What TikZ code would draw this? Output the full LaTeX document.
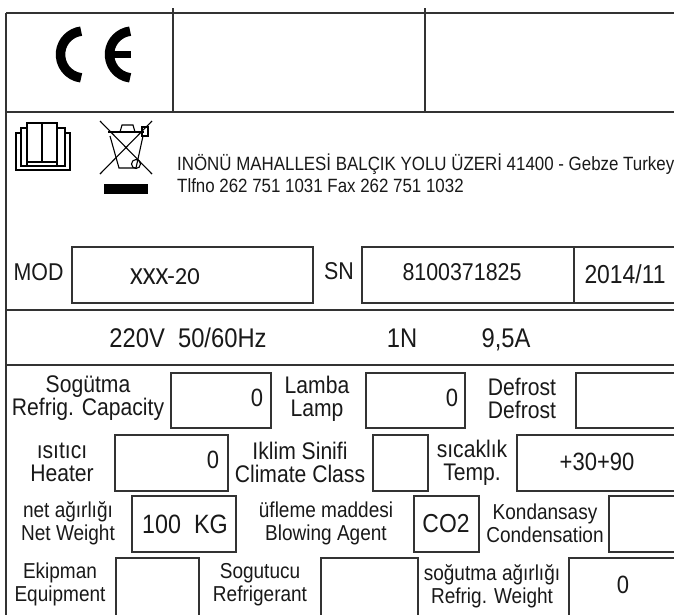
\documentclass[tikz,border=0pt]{standalone}
\usepackage{fontspec}
\setmainfont{Liberation Sans}[FakeStretch=0.88]
\newfontfamily\carlito{Carlito}
\begin{document}
\begin{tikzpicture}[x=1pt,y=-1pt,
  frame/.style={draw=black!80,line width=1.3pt},
  boxl/.style={draw=black!80,line width=1.2pt},
  icon/.style={draw=black,line width=1.1pt},
  txt/.style={inner sep=0pt,text=black!90,align=center},
  big/.style={txt,font=\fontsize{24.3}{27}\selectfont},
  lblA/.style={txt,font=\fontsize{24}{23}\selectfont},
  lblC/.style={txt,font=\fontsize{21.6}{23}\selectfont},
  val/.style={txt,font=\fontsize{25}{27}\selectfont},
  volts/.style={txt,anchor=base,font=\fontsize{27}{29}\selectfont},
  addr/.style={inner sep=0pt,anchor=base west,text=black!90,font=\fontsize{19.2}{20}\selectfont}]
\useasboundingbox (0,0) rectangle (674,614);
\clip (0,0) rectangle (674,614);
\fill[white] (0,0) rectangle (674,614);
% frame lines
\draw[frame] (6,13) -- (680,13);
\draw[frame] (6,13) -- (6,620);
\draw[frame] (173,8) -- (173,112);
\draw[frame] (425,8) -- (425,112);
\draw[frame] (6,112) -- (680,112);
\draw[frame] (6,310) -- (680,310);
\draw[frame] (6,365) -- (680,365);
% CE mark
\draw[line width=9.5pt] (84,54.5) ++(97:23.5) arc[start angle=97,end angle=263,radius=23.5];
\draw[line width=9.5pt] (133,54.5) ++(97:23.5) arc[start angle=97,end angle=263,radius=23.5];
\draw[line width=6.5pt] (112,54.5) -- (131,54.5);
% book icon
\draw[icon] (27,123) rectangle (42,162);
\draw[icon] (42,123) rectangle (57,162);
\draw[icon] (27,128) -- (21,128) -- (21,166) -- (65,166) -- (65,128) -- (57,128);
\draw[icon] (21,133) -- (16,133) -- (16,170) -- (70,170) -- (70,133) -- (65,133);
\draw[icon] (27,162) -- (27,165);
\draw[icon] (57,162) -- (57,165);
% WEEE bin icon
\draw[icon] (100,121) -- (152,174);
\draw[icon] (152,121) -- (100,174);
\draw[icon] (108,132) -- (144,132);
\draw[icon] (110,136) -- (119,168) -- (136,168) -- (143,136);
\draw[icon] (120,132) -- (122,125) -- (133,125) -- (135,132);
\draw[icon] (142,127) rectangle (148,136);
\draw[icon] (136,164) circle[radius=4.5];
\fill[black] (104,184) rectangle (148,194);
% address
\node[addr] (addr1) at (177,170) {INÖNÜ MAHALLESİ BALÇIK YOLU ÜZERİ 41400 - Gebze Turkey};
\node[addr] (addr2) at (177,192) {Tlfno 262 751 1031 Fax 262 751 1032};
% MOD row
\draw[boxl] (72,247) rectangle (313,303);
\draw[boxl] (362,247) rectangle (680,303);
\draw[boxl] (574,247) -- (574,303);
\node[big] (mod) at (38.5,272) {MOD};
\node[txt,font=\carlito\fontsize{24.5}{26}\selectfont] (model) at (165,277) {XXX-20};
\node[big] (sn) at (339,271) {SN};
\node[big] (serial) at (462,272) {8100371825};
\node[txt,anchor=base,font=\fontsize{26}{27}\selectfont] (date) at (625,283) {2014/11};
% voltage row
\node[volts] (volt) at (188,347.5) {220V\ \ 50/60Hz};
\node[volts] (phase) at (402,347.5) {1N};
\node[volts] (amp) at (506,347.5) {9,5A};
% row A
\draw[boxl] (171,373) rectangle (271,428);
\draw[boxl] (366,373) rectangle (465,428);
\draw[boxl] (576,373) rectangle (680,428);
\node[lblA] (capl) at (88,398.5) {Sogütma\\Refrig. Capacity};
\node[val] (capv) at (257,398) {0};
\node[lblA] (lampl) at (317,398.5) {Lamba\\Lamp};
\node[val] (lampv) at (452,398) {0};
\node[lblA] (defl) at (522,398.5) {Defrost\\Defrost};
% row B
\draw[boxl] (115,435) rectangle (228,491);
\draw[boxl] (373,435) rectangle (428,491);
\draw[boxl] (517,435) rectangle (680,491);
\node[lblA] (heatl) at (62,462.5) {ısıtıcı\\Heater};
\node[val] (heatv) at (213,460) {0};
\node[lblA] (climl) at (300,462.5) {Iklim Sinifi\\Climate Class};
\node[lblA] (templ) at (472,462.5) {sıcaklık\\Temp.};
\node[val] (tempv) at (597,462) {+30+90};
% row C
\draw[boxl] (132,496) rectangle (236,552);
\draw[boxl] (414,496) rectangle (479,552);
\draw[boxl] (609,496) rectangle (680,552);
\node[lblC] (netl) at (68,523.5) {net ağırlığı\\Net Weight};
\node[txt,font=\fontsize{26.5}{28}\selectfont] (netv) at (185,524) {100\ \ KG};
\node[lblC] (blowl) at (326,523.5) {üfleme maddesi\\Blowing Agent};
\node[txt,font=\fontsize{26}{28}\selectfont] (blowv) at (446,524) {CO2};
\node[lblC] (condl) at (545,523.5) {Kondansasy\\Condensation};
% row D
\draw[boxl] (116,558) rectangle (199,620);
\draw[boxl] (321,558) rectangle (418,620);
\draw[boxl] (569,558) rectangle (680,620);
\node[lblC] (equl) at (60,584.5) {Ekipman\\Equipment};
\node[lblC] (refl) at (260,584.5) {Sogutucu\\Refrigerant};
\node[lblC] (rwl) at (492,586) {soğutma ağırlığı\\Refrig. Weight};
\node[val] (rwv) at (623,585) {0};
\end{tikzpicture}
\end{document}
